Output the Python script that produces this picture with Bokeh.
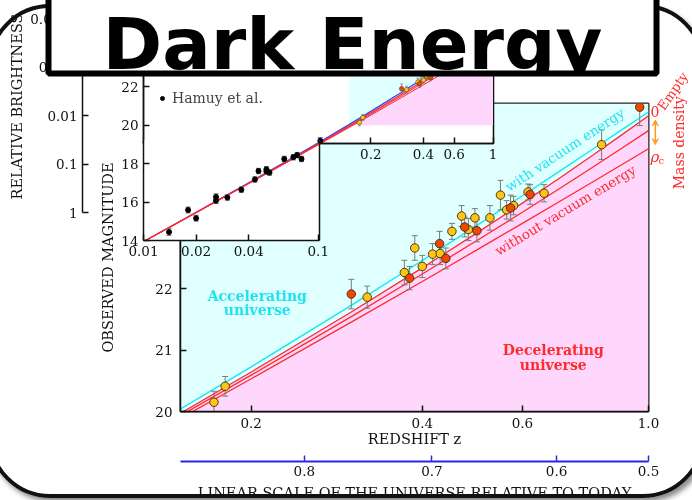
from bokeh.plotting import figure
from bokeh.models import (Range1d, LinearAxis, LogAxis, FixedTicker, CustomJSTickFormatter,
                          Label, Arrow, VeeHead, Legend, LegendItem, Div)
from bokeh.embed import file_html
from bokeh.resources import INLINE

# ---------------- data ----------------
z_model = [0.01, 0.015, 0.02, 0.03, 0.05, 0.07, 0.1, 0.15, 0.2, 0.3, 0.4, 0.5, 0.6, 0.7, 0.8, 0.9, 1.0, 1.05]
m_empty = [13.941, 14.827, 15.457, 16.348, 17.479, 18.230, 19.036, 19.968, 20.642, 21.619, 22.336,
           22.909, 23.390, 23.807, 24.176, 24.508, 24.811, 24.952]
m_vacuum = [13.947, 14.836, 15.469, 16.366, 17.508, 18.270, 19.086, 20.037, 20.727, 21.726, 22.456,
            23.032, 23.510, 23.917, 24.274, 24.588, 24.872, 25.002]
m_mid = [13.939, 14.823, 15.452, 16.341, 17.467, 18.213, 19.011, 19.931, 20.592, 21.544, 22.237,
         22.785, 23.242, 23.635, 23.980, 24.289, 24.569, 24.699]
m_critical = [13.936, 14.819, 15.446, 16.332, 17.452, 18.192, 18.981, 19.886, 20.532, 21.453, 22.115,
              22.633, 23.061, 23.425, 23.741, 24.022, 24.274, 24.390]

sn_z = [0.172, 0.180, 0.300, 0.320, 0.372, 0.380, 0.388, 0.400, 0.417, 0.429, 0.430, 0.440, 0.451, 0.469,
        0.475, 0.482, 0.495, 0.499, 0.526, 0.549, 0.563, 0.572, 0.579, 0.614, 0.619, 0.655, 0.827, 0.965]
sn_m = [20.15, 20.41, 21.91, 21.86, 22.26, 22.17, 22.66, 22.36, 22.56, 22.73, 22.57, 22.49, 22.93, 23.18,
        23.00, 22.96, 23.15, 22.94, 23.15, 23.52, 23.28, 23.31, 23.35, 23.57, 23.53, 23.55, 24.34, 24.95]
sn_err = [0.18, 0.16, 0.24, 0.18, 0.20, 0.19, 0.20, 0.18, 0.17, 0.20, 0.18, 0.17, 0.13, 0.17,
          0.16, 0.18, 0.15, 0.18, 0.20, 0.24, 0.15, 0.21, 0.15, 0.13, 0.16, 0.14, 0.24, 0.30]
sn_group = ["Y", "Y", "R", "Y", "Y", "R", "Y", "Y", "Y", "R", "Y", "R", "Y", "Y",
            "R", "Y", "Y", "R", "Y", "Y", "Y", "R", "Y", "Y", "R", "Y", "Y", "R"]

hamuy_z = [0.0140, 0.0180, 0.0200, 0.0260, 0.0260, 0.0302, 0.0363, 0.0434, 0.0455, 0.0505, 0.0505,
           0.0526, 0.0639, 0.0720, 0.0757, 0.0802, 0.1027]
hamuy_m = [14.44, 15.59, 15.16, 16.27, 16.08, 16.24, 16.65, 17.18, 17.62, 17.71, 17.60,
           17.54, 18.25, 18.34, 18.45, 18.25, 19.20]
hamuy_err = [0.17, 0.15, 0.15, 0.16, 0.15, 0.14, 0.14, 0.14, 0.14, 0.14, 0.14,
             0.14, 0.14, 0.14, 0.14, 0.14, 0.16]

z_ticks = [0.2, 0.4, 0.6, 1.0]
mag_ticks = [20, 21, 22]
scale_labels = ["0.8", "0.7", "0.6", "0.5"]
scale_tick_z = [0.248, 0.416, 0.689, 1.0]
inset_lo_xticks = [0.01, 0.02, 0.04, 0.1]
inset_hi_xticks = [0.2, 0.4, 0.6, 1]
inset_lo_yticks = [14, 16, 18]
inset_hi_yticks = [20, 22, 24]
bright_ticks = [1, 0.1, 0.01, 0.001, 0.0001]

# ---------------- styling ----------------
SERIF = "DejaVu Serif"
TICK_FS = "13.5px"
LAB_FS = "14.5px"
CYAN_BG = "#e0ffff"
PINK_BG = "#ffd7fd"
CYAN = "#1ee3f0"
RED = "#ff2b2b"
BLUE_LINE = "#3344ff"
AXIS_BLUE = "#2828e6"
YEL = "#ffc414"
ORG = "#f04800"
ORANGE = "#ff9a1a"
GRAY = "#7a7a7a"

Z_MIN, Z_MAX = 0.1502, 1.0
MAG_MIN, MAG_MAX = 20.0, 25.01
i0 = z_model.index(0.15)
i1 = z_model.index(1.0) + 1

_layer = [0]


def pos(left, top):
    _layer[0] += 1
    return {"position": "fixed", "left": f"{left}px", "top": f"{top}px", "z-index": str(_layer[0]),
            "margin": "0px"}


def style_axis(ax, color="#111111"):
    ax.axis_line_color = color
    ax.axis_line_width = 1.5
    ax.major_tick_line_color = color
    ax.major_tick_line_width = 1.5
    ax.major_tick_in = 6
    ax.major_tick_out = 0
    ax.minor_tick_line_color = None
    ax.major_label_text_font = SERIF
    ax.major_label_text_font_size = TICK_FS
    ax.major_label_text_color = "#111111"
    ax.major_label_standoff = 5
    ax.axis_label_text_font = SERIF
    ax.axis_label_text_font_size = LAB_FS
    ax.axis_label_text_font_style = "normal"
    ax.axis_label_text_color = "#111111"


def errorbars(p, xs, ys, es, color, width, cap):
    lo = [y - e for y, e in zip(ys, es)]
    hi = [y + e for y, e in zip(ys, es)]
    p.segment(x0=xs, y0=lo, x1=xs, y1=hi, line_color=color, line_width=width)
    if cap:
        p.scatter(x=list(xs) + list(xs), y=lo + hi, marker="dash", size=cap,
                  line_color=color, line_width=width)


def sn_points(p, size, lw, err_w, cap):
    errorbars(p, sn_z, sn_m, sn_err, GRAY, err_w, cap)
    for grp, col in (("Y", YEL), ("R", ORG)):
        xs = [z for z, g in zip(sn_z, sn_group) if g == grp]
        ys = [m for m, g in zip(sn_m, sn_group) if g == grp]
        p.scatter(xs, ys, size=size, fill_color=col, line_color="#3a2a10", line_width=lw)


def regions(p):
    zf = z_model[i0:i1]
    p.varea(x=zf, y1=m_empty[i0:i1], y2=[MAG_MAX] * len(zf), fill_color=CYAN_BG)
    p.varea(x=zf, y1=[MAG_MIN] * len(zf), y2=m_empty[i0:i1], fill_color=PINK_BG)


def base_fig(**kw):
    f = figure(output_backend="svg", toolbar_location=None, **kw)
    f.grid.visible = False
    return f


roots = []

# ---------------- main panel ----------------
main = base_fig(width=692, height=500, x_axis_type="log",
                x_range=Range1d(Z_MIN, Z_MAX), y_range=Range1d(MAG_MIN, MAG_MAX),
                x_axis_location=None, y_axis_location=None,
                min_border_left=180, min_border_right=44, min_border_top=103, min_border_bottom=89,
                background_fill_color="white", border_fill_color="white",
                outline_line_color="#222222", outline_line_width=2, styles=pos(0, 0))
regions(main)
main.line(z_model, m_vacuum, line_color=CYAN, line_width=1.4)
main.line(z_model, m_empty, line_color=RED, line_width=1.3)
main.line(z_model, m_mid, line_color=RED, line_width=1.3)
main.line(z_model, m_critical, line_color=RED, line_width=1.3)
sn_points(main, 8.5, 0.9, 1.0, 6)

xa = LogAxis(ticker=FixedTicker(ticks=z_ticks),
             formatter=CustomJSTickFormatter(code="return tick.toFixed(1);"),
             axis_label="REDSHIFT z")
style_axis(xa)
xa.major_label_standoff = 6
xa.axis_label_standoff = 0
main.add_layout(xa, "below")

ya = LinearAxis(ticker=FixedTicker(ticks=mag_ticks), axis_label="OBSERVED MAGNITUDE")
style_axis(ya)
ya.major_label_standoff = 8
ya.axis_label_standoff = 36
main.add_layout(ya, "left")

lab_kw = dict(text_font=SERIF, text_font_size="14px", text_font_style="bold", text_align="center",
              text_baseline="middle")
main.add_layout(Label(x=0.205, y=21.886, text="Accelerating", text_color=CYAN, **lab_kw))
main.add_layout(Label(x=0.205, y=21.659, text="universe", text_color=CYAN, **lab_kw))
main.add_layout(Label(x=0.680, y=21.008, text="Decelerating", text_color=RED, **lab_kw))
main.add_layout(Label(x=0.680, y=20.764, text="universe", text_color=RED, **lab_kw))
main.add_layout(Label(x=0.58, y=23.414, text="with vacuum energy", text_color=CYAN, angle=33.5,
                      angle_units="deg", text_font=SERIF, text_font_size="13.5px",
                      text_baseline="bottom", y_offset=7, x_offset=-3))
main.add_layout(Label(x=0.53, y=22.761, text="without vacuum energy", text_color=RED, angle=31,
                      angle_units="deg", text_font=SERIF, text_font_size="13.5px",
                      text_baseline="top", y_offset=-3))
roots.append(main)

# ---------------- overlay for texts right of the panel ----------------
ov = base_fig(width=692, height=500, x_axis_type="log",
              x_range=Range1d(Z_MIN, 1.195), y_range=Range1d(MAG_MIN, 25.87),
              x_axis_location=None, y_axis_location=None,
              min_border_left=180, min_border_right=0, min_border_top=50, min_border_bottom=89,
              background_fill_alpha=0, border_fill_alpha=0, outline_line_color=None, styles=pos(0, 0))
ov.add_layout(Label(x=1.0, y=m_empty[i1 - 1], text="0", text_color=RED, text_font=SERIF,
                    text_font_size="14px", text_baseline="middle", x_offset=2, y_offset=4))
ov.add_layout(Label(x=1.0, y=m_empty[i1 - 1], text="Empty", text_color=RED, text_font=SERIF,
                    text_font_size="13px", text_baseline="alphabetic", angle=55, angle_units="deg",
                    x_offset=12, y_offset=7))
ov.add_layout(Label(x=1.0, y=24.37, text="Mass density", text_color=RED, text_font=SERIF,
                    text_font_size="14px", text_align="center", text_baseline="middle",
                    angle=90, angle_units="deg", x_offset=30))
ov.add_layout(Label(x=1.0, y=m_critical[i1 - 1], text="ρ", text_color=RED, text_font=SERIF,
                    text_font_size="15px", text_font_style="italic", text_baseline="middle",
                    x_offset=2, y_offset=-8))
ov.add_layout(Label(x=1.0, y=m_critical[i1 - 1], text="c", text_color=RED, text_font=SERIF,
                    text_font_size="10px", text_baseline="middle", x_offset=10, y_offset=-12))
ov.add_layout(Arrow(x_start=1.028, y_start=24.34, x_end=1.028, y_end=24.74,
                    start=VeeHead(size=6, line_color=ORANGE, fill_color=ORANGE),
                    end=VeeHead(size=6, line_color=ORANGE, fill_color=ORANGE),
                    line_color=ORANGE, line_width=1.5))
roots.append(ov)

# ---------------- scale-factor axis ----------------
sf = base_fig(width=692, height=90, x_axis_type="log", x_range=main.x_range, y_range=Range1d(0, 1),
              x_axis_location=None, y_axis_location=None,
              min_border_left=180, min_border_right=44, min_border_top=10, min_border_bottom=70,
              background_fill_alpha=0, border_fill_alpha=0, outline_line_color=None, styles=pos(0, 441))
sa = LogAxis(ticker=FixedTicker(ticks=scale_tick_z),
             formatter=CustomJSTickFormatter(args=dict(pos=scale_tick_z, lab=scale_labels),
                                             code="const i = pos.indexOf(tick); return i < 0 ? '' : lab[i];"),
             axis_label="LINEAR SCALE OF THE UNIVERSE RELATIVE TO TODAY")
style_axis(sa, AXIS_BLUE)
sa.axis_line_width = 2
sa.major_label_standoff = 4
sa.axis_label_standoff = 6
sf.add_layout(sa, "below")
roots.append(sf)

# ---------------- rounded slide frame ----------------
frame_div = Div(text="", width=717, height=494,
                styles={**pos(-12, 4), "border": "4px solid #111111", "border-radius": "62px",
                        "box-shadow": "3px 4px 5px rgba(0,0,0,0.45)", "box-sizing": "border-box"})
roots.append(frame_div)

# ---------------- relative brightness axis ----------------
fb = base_fig(width=92, height=225, y_axis_type="log", x_range=Range1d(0, 1),
              y_range=Range1d(1.0, 4.2e-5), x_axis_location=None, y_axis_location="left",
              min_border_left=82, min_border_right=2, min_border_top=0, min_border_bottom=13,
              background_fill_alpha=0, border_fill_alpha=0, outline_line_color=None, styles=pos(0, 0))
bax = fb.yaxis[0]
bax.ticker = FixedTicker(ticks=bright_ticks)
bax.formatter = CustomJSTickFormatter(code="return tick.toString();")
bax.axis_label = "RELATIVE BRIGHTNESS"
style_axis(bax)
bax.major_label_standoff = 5
bax.axis_label_standoff = 2
roots.append(fb)


# ---------------- inset (upper part, full redshift range) ----------------
def inset_content(p, with_sn):
    if with_sn:
        regions(p)
    p.line(z_model, m_vacuum, line_color=BLUE_LINE, line_width=1.3)
    p.line(z_model, m_critical, line_color=RED, line_width=1.0)
    p.line(z_model, m_mid, line_color=RED, line_width=1.0)
    p.line(z_model, m_empty, line_color=RED, line_width=1.3)
    if with_sn:
        sn_points(p, 4.5, 0.5, 0.7, 3)
    errorbars(p, hamuy_z, hamuy_m, hamuy_err, "#666666", 1.0, 5)
    return p.scatter(hamuy_z, hamuy_m, size=5, fill_color="black", line_color="black")


inB = base_fig(width=403, height=173, x_axis_type="log",
               x_range=Range1d(0.01, 1.0066), y_range=Range1d(19.055, 25.985),
               min_border_left=43, min_border_right=10, min_border_top=10, min_border_bottom=30,
               background_fill_color="white", border_fill_alpha=0,
               outline_line_color="#111111", outline_line_width=1.5, styles=pos(100, 0))
hr = inset_content(inB, True)
inB.xaxis.ticker = FixedTicker(ticks=inset_hi_xticks)
inB.xaxis.formatter = CustomJSTickFormatter(code="return tick.toString();")
inB.yaxis.ticker = FixedTicker(ticks=inset_hi_yticks)
for ax in inB.xaxis + inB.yaxis:
    style_axis(ax)
inB.add_layout(Legend(items=[LegendItem(label="Hamuy et al.", renderers=[hr])], location=(14, 37),
                      padding=0, margin=0, spacing=0, glyph_width=10, glyph_height=10, label_height=16,
                      label_standoff=5, border_line_color=None, background_fill_alpha=0,
                      label_text_font=SERIF, label_text_font_size="14px"))
roots.append(inB)

# ---------------- inset (lower-left part) ----------------
inA = base_fig(width=229, height=140, x_axis_type="log",
               x_range=Range1d(0.01, 0.10166), y_range=Range1d(14.0, 19.211),
               min_border_left=43, min_border_right=10, min_border_top=10, min_border_bottom=30,
               background_fill_color="white", border_fill_alpha=0, outline_line_color=None,
               styles=pos(100, 130))
inset_content(inA, False)
inA.xaxis.ticker = FixedTicker(ticks=inset_lo_xticks)
inA.xaxis.formatter = CustomJSTickFormatter(code="return tick.toString();")
inA.yaxis.ticker = FixedTicker(ticks=inset_lo_yticks)
for ax in inA.xaxis + inA.yaxis:
    style_axis(ax)
edge = LinearAxis(ticker=FixedTicker(ticks=[]), major_label_text_font_size="0px",
                  axis_line_color="#111111", axis_line_width=1.5, major_tick_line_color=None,
                  minor_tick_line_color=None)
inA.add_layout(edge, "right")
roots.append(inA)

# ---------------- title box ----------------
ft = base_fig(width=624, height=121, x_range=Range1d(0, 1), y_range=Range1d(0, 1),
              x_axis_location=None, y_axis_location=None,
              min_border_left=8, min_border_right=8, min_border_top=8, min_border_bottom=8,
              background_fill_color="white", border_fill_alpha=0,
              outline_line_color="black", outline_line_width=6, styles=pos(40, -40))
ft.add_layout(Label(x=304, y=30, x_units="screen", y_units="screen", text="Dark Energy",
                    text_font="DejaVu Sans", text_font_style="bold", text_font_size="72px",
                    text_align="center", text_baseline="alphabetic", text_color="black"))
roots.append(ft)

open("out.html", "w").write(file_html(roots, INLINE, title="Dark Energy"))
